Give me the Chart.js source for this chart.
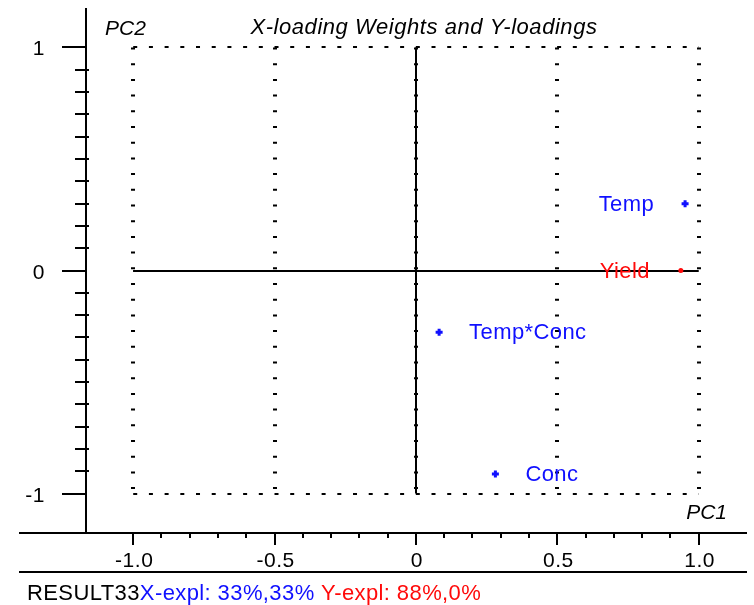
<!DOCTYPE html>
<html>
<head>
<meta charset="utf-8">
<script src="https://cdn.jsdelivr.net/npm/chart.js@4.4.1/dist/chart.umd.min.js"></script>
<style>
  html, body { margin: 0; padding: 0; background: #fff; }
  canvas { display: block; }
</style>
</head>
<body>
<canvas id="chart" width="754" height="605"></canvas>
<script>
// loadings for the X variables (PC1, PC2)
const xVarNames = ["Temp", "Conc", "Temp*Conc"];
const xVarPC1 = [0.952, 0.281, 0.082];
const xVarPC2 = [0.299, -0.912, -0.277];

// loadings for the Y variables
const yVarNames = ["Yield"];
const yVarPC1 = [0.937];
const yVarPC2 = [0.0];

const xMajorTicks = [-1.0, -0.5, 0, 0.5, 1.0];
const xTickLabels = ["-1.0", "-0.5", "0", "0.5", "1.0"];
const yMajorTicks = [1, 0, -1];
const yTickLabels = ["1", "0", "-1"];

const titleText = "X-loading Weights and Y-loadings";
const xAxisName = "PC1";
const yAxisName = "PC2";
const footerParts = ["RESULT33", "X-expl: 33%,33%", " Y-expl: 88%,0%"];

const BLUE = "#1010ff";
const RED = "#ff0a0a";
const FONT = "'Liberation Sans', Arial, sans-serif";

function qs(id) {
  return document.getElementById(id);
}

function setFont(ctx, size, italic, spacing) {
  ctx.font = `${italic ? "italic " : ""}${size}px ${FONT}`;
  ctx.letterSpacing = `${spacing || 0}px`;
}

// dotted line made of small 4x2 dashes
function dotted(ctx, x1, y1, x2, y2) {
  ctx.save();
  ctx.strokeStyle = "#000";
  if (x1 === x2) {
    ctx.lineWidth = 4;
    ctx.setLineDash([2, 13.7]);
  } else {
    ctx.lineWidth = 2;
    ctx.setLineDash([4, 11.7]);
  }
  ctx.beginPath();
  ctx.moveTo(x1, y1);
  ctx.lineTo(x2, y2);
  ctx.stroke();
  ctx.restore();
}

function line(ctx, x1, y1, x2, y2, w) {
  ctx.lineWidth = w || 2;
  ctx.beginPath();
  ctx.moveTo(x1, y1);
  ctx.lineTo(x2, y2);
  ctx.stroke();
}

const frame = {
  id: "frame",
  beforeDatasetsDraw(chart) {
    const { ctx, chartArea: a } = chart;
    const xs = chart.scales.x, ys = chart.scales.y;
    const px = (v) => xs.getPixelForValue(v);
    const py = (v) => ys.getPixelForValue(v);
    const xLo = xMajorTicks[0], xHi = xMajorTicks[xMajorTicks.length - 1];
    const yHi = yMajorTicks[0], yLo = yMajorTicks[yMajorTicks.length - 1];

    ctx.save();
    ctx.strokeStyle = "#000";

    // dotted grid
    xMajorTicks.forEach((v) => dotted(ctx, Math.round(px(v)), py(yHi), Math.round(px(v)), py(yLo)));
    yMajorTicks.forEach((v) => dotted(ctx, px(xLo), Math.round(py(v)), px(xHi), Math.round(py(v))));

    // solid zero lines
    line(ctx, Math.round(px(0)), py(yHi), Math.round(px(0)), py(yLo));
    line(ctx, px(xLo), Math.round(py(0)), px(xHi), Math.round(py(0)));

    // axis lines
    line(ctx, a.left, a.top, a.left, a.bottom);
    line(ctx, 19, a.bottom, a.right, a.bottom);
    line(ctx, 19, a.bottom + 39, a.right, a.bottom + 39);

    // tick marks every 0.1
    for (let i = -10; i <= 10; i++) {
      const v = i / 10;
      const major = i % 5 === 0;
      const x = Math.round(px(v));
      line(ctx, x, a.bottom, x, a.bottom + (major ? 12 : 5));
      const y = Math.round(py(v));
      if (i % 10 === 0) line(ctx, a.left - 24, y, a.left + 1, y);
      else line(ctx, a.left - 11, y, a.left + 3, y);
    }

    // tick labels
    ctx.fillStyle = "#000";
    setFont(ctx, 21, false, 0.5);
    ctx.textBaseline = "alphabetic";
    ctx.textAlign = "center";
    xMajorTicks.forEach((v, i) => ctx.fillText(xTickLabels[i], px(v) + 1, a.bottom + 34));
    ctx.textAlign = "right";
    yMajorTicks.forEach((v, i) => ctx.fillText(yTickLabels[i], a.left - 41, py(v) + 8));

    // title and axis names
    setFont(ctx, 22, true, 0.55);
    ctx.textAlign = "center";
    ctx.fillText(titleText, 424, 34);
    setFont(ctx, 21, true, 0);
    ctx.textAlign = "left";
    ctx.fillText(yAxisName, 105, 35);
    ctx.textAlign = "right";
    ctx.fillText(xAxisName, 727, 519);

    // footer
    setFont(ctx, 22, false, 0.4);
    ctx.textAlign = "left";
    const colors = ["#000", BLUE, RED];
    let fx = 27;
    footerParts.forEach((t, i) => {
      ctx.fillStyle = colors[i];
      ctx.fillText(t, fx, 600);
      fx += ctx.measureText(t).width;
    });
    ctx.restore();
  },
  afterDatasetsDraw(chart) {
    const { ctx } = chart;
    ctx.save();
    setFont(ctx, 22, false, 0.4);
    ctx.textBaseline = "alphabetic";
    chart.data.datasets.forEach((ds, di) => {
      const meta = chart.getDatasetMeta(di);
      meta.data.forEach((pt, i) => {
        const name = ds.names[i];
        ctx.fillStyle = ds.borderColor;
        if (ds.data[i].x > 0.5) {
          ctx.textAlign = "right";
          ctx.fillText(name, pt.x - 31, pt.y + 7);
        } else {
          ctx.textAlign = "left";
          ctx.fillText(name, pt.x + 30, pt.y + 7);
        }
      });
    });
    ctx.restore();
  }
};

new Chart(qs("chart"), {
  type: "scatter",
  data: {
    datasets: [
      {
        label: "X-loadings",
        names: xVarNames,
        data: xVarPC1.map((v, i) => ({ x: v, y: xVarPC2[i] })),
        pointStyle: "cross",
        pointRadius: 3.5,
        borderWidth: 3,
        borderColor: BLUE,
        backgroundColor: BLUE,
      },
      {
        label: "Y-loadings",
        names: yVarNames,
        data: yVarPC1.map((v, i) => ({ x: v, y: yVarPC2[i] })),
        pointStyle: "circle",
        pointRadius: 2.5,
        borderWidth: 0,
        borderColor: RED,
        backgroundColor: RED,
      },
    ],
  },
  options: {
    responsive: false,
    animation: false,
    events: [],
    layout: { padding: { left: 86, top: 8, right: 7, bottom: 72 } },
    scales: {
      x: { type: "linear", min: -1.167, max: 1.171, display: false },
      y: { type: "linear", min: -1.177, max: 1.177, display: false },
    },
    plugins: { legend: { display: false }, tooltip: { enabled: false } },
  },
  plugins: [frame],
});
</script>
</body>
</html>
